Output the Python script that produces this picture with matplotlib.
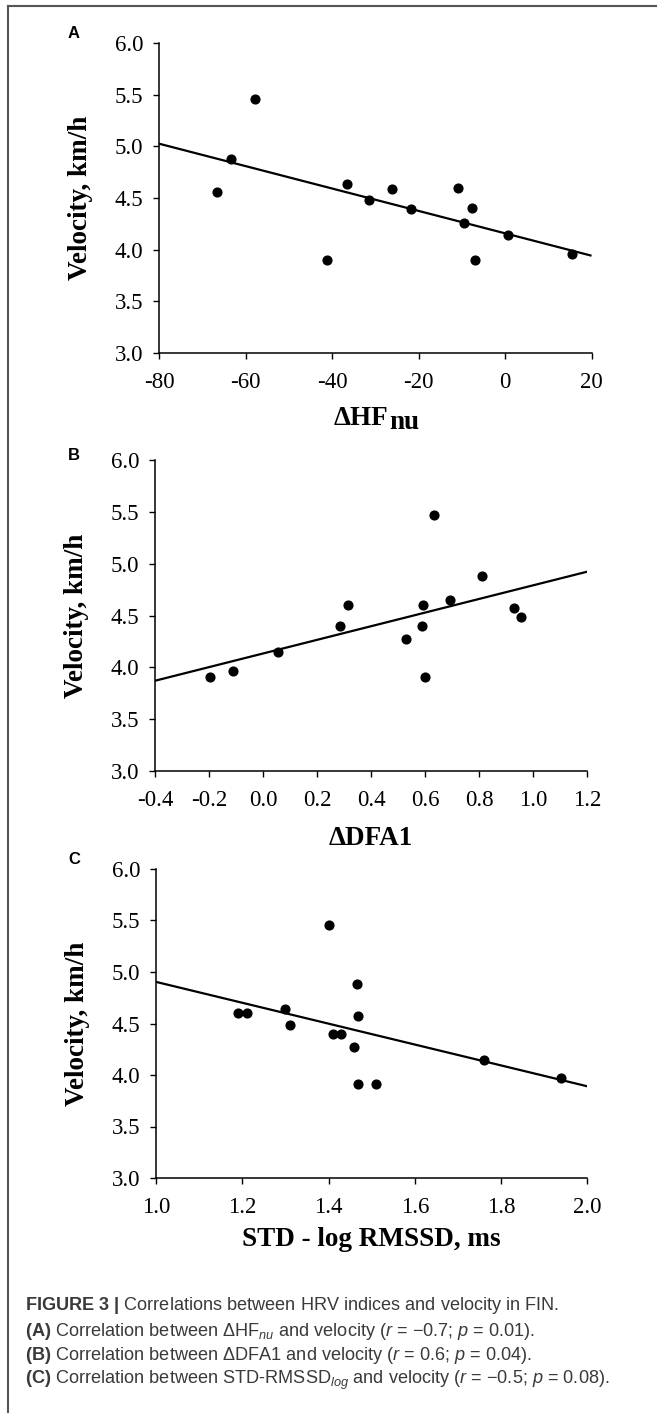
import numpy as np
import matplotlib
matplotlib.use("Agg")
import matplotlib.pyplot as plt

plt.rcParams['axes.unicode_minus'] = False
plt.rcParams['mathtext.fontset'] = 'custom'
plt.rcParams['mathtext.rm'] = 'Liberation Sans'
plt.rcParams['mathtext.it'] = 'Liberation Sans:italic'
plt.rcParams['mathtext.bf'] = 'Liberation Sans:bold'

# donnees (14 sujets)
hf_nu = [-66.6, -63.3, -57.7, -41.2, -36.6, -31.4, -26.2, -21.8, -10.9, -9.4, -7.7, -7.0, 0.7, 15.5]
vel_a = [4.56, 4.88, 5.46, 3.90, 4.64, 4.48, 4.59, 4.39, 4.60, 4.26, 4.40, 3.90, 4.14, 3.96]

dfa1 = [-0.197, -0.112, 0.054, 0.285, 0.314, 0.530, 0.590, 0.593, 0.601, 0.632, 0.693, 0.809, 0.927, 0.953]
vel_b = [3.91, 3.96, 4.15, 4.40, 4.60, 4.27, 4.40, 4.60, 3.91, 5.47, 4.65, 4.88, 4.57, 4.49]

log_rmssd = [1.19, 1.21, 1.30, 1.31, 1.40, 1.41, 1.43, 1.46, 1.465, 1.468, 1.468, 1.509, 1.76, 1.94]
vel_c = [4.60, 4.60, 4.64, 4.49, 5.46, 4.40, 4.40, 4.27, 4.88, 4.57, 3.91, 3.91, 4.15, 3.97]

xticks_a = [-80, -60, -40, -20, 0, 20]
xticks_b = [-0.4, -0.2, 0.0, 0.2, 0.4, 0.6, 0.8, 1.0, 1.2]
xticks_c = [1.0, 1.2, 1.4, 1.6, 1.8, 2.0]
yticks = [3.0, 3.5, 4.0, 4.5, 5.0, 5.5, 6.0]

W, H = 657, 1413
fig = plt.figure(figsize=(W / 100, H / 100), dpi=100)

def box(l, r, t, b):
  return [l / W, 1 - b / H, (r - l) / W, (b - t) / H]

serif = 'Liberation Serif'

def panel(pos, x, y, xticks, xfmt, letter, letter_y):
  ax = fig.add_axes(pos)
  ax.plot(x, y, 'o', color='black', markersize=6.3, zorder=3)
  # droite de regression (moindres carres)
  a, b = np.polyfit(x, y, 1)
  xx = np.array([xticks[0], xticks[-1]])
  ax.plot(xx, a * xx + b, color='black', lw=1.6, solid_capstyle='butt')
  ax.set_xlim(xticks[0], xticks[-1])
  ax.set_ylim(3.0, 6.0)
  ax.set_xticks(xticks)
  ax.set_xticklabels([xfmt.format(v) for v in xticks])
  ax.set_yticks(yticks)
  ax.set_yticklabels(["{:.1f}".format(v) for v in yticks])
  for s in ['top', 'right']:
    ax.spines[s].set_visible(False)
  for s in ['left', 'bottom']:
    ax.spines[s].set_linewidth(1.1)
  ax.tick_params(direction='out', length=4.5, width=1, pad=7, labelsize=16.5)
  ax.tick_params(axis='x', pad=9)
  for lab in ax.get_xticklabels() + ax.get_yticklabels():
    lab.set_fontfamily(serif)
  ax.text(-0.182, 0.5, 'Velocity, km/h', transform=ax.transAxes, rotation=90,
          ha='center', va='center', fontsize=19.5, fontweight='bold', family=serif)
  fig.text(74 / W, 1 - letter_y / H, letter, ha='center', va='center',
           fontsize=12, fontweight='bold', family='Liberation Sans')
  return ax

def xlabel(x_px, y_px, texte, **kw):
  fig.text(x_px / W, 1 - y_px / H, texte, fontsize=19.5, fontweight='bold',
           family=serif, **kw)

panel(box(159, 591.5, 43, 353), hf_nu, vel_a, xticks_a, "{:d}", 'A', 34)
# ΔHF avec l'indice "nu" presque a la meme taille, un peu plus bas
xlabel(388, 425, 'ΔHF', ha='right', va='baseline')
xlabel(389, 429, 'nu', ha='left', va='baseline')

panel(box(155, 587.3, 460, 771), dfa1, vel_b, xticks_b, "{:.1f}", 'B', 455)
xlabel(371, 838, 'ΔDFA1', ha='center', va='center')

panel(box(156, 587.3, 869, 1178), log_rmssd, vel_c, xticks_c, "{:.1f}", 'C', 859)
xlabel(371, 1240, 'STD - log RMSSD, ms', ha='center', va='center')

# cadre (gauche et haut)
fig.add_artist(plt.Line2D([8 / W, 8 / W], [0, 1 - 6 / H], transform=fig.transFigure,
                          color='#555555', lw=1.5))
fig.add_artist(plt.Line2D([8 / W, 1], [1 - 6 / H, 1 - 6 / H], transform=fig.transFigure,
                          color='#555555', lw=1.5))

# legende de la figure
caption = [
  r'$\mathbf{FIGURE\ 3\ |}$ Correlations between HRV indices and velocity in FIN.',
  r'$\mathbf{(A)}$ Correlation between ΔH$\mathrm{F}_{nu}$ and velocity ($r$ = −0.7; $p$ = 0.01).',
  r'$\mathbf{(B)}$ Correlation between ΔDFA1 and velocity ($r$ = 0.6; $p$ = 0.04).',
  r'$\mathbf{(C)}$ Correlation between STD-RMSS$\mathrm{D}_{log}$ and velocity ($r$ = −0.5; $p$ = 0.08).',
]
for ligne, yy in zip(caption, [1306, 1331, 1355, 1380]):
  fig.text(25 / W, 1 - yy / H, ligne, ha='left', va='center', fontsize=13.1,
           family='Liberation Sans', color='#3a3a3a')

fig.savefig('out.png', dpi=100)
